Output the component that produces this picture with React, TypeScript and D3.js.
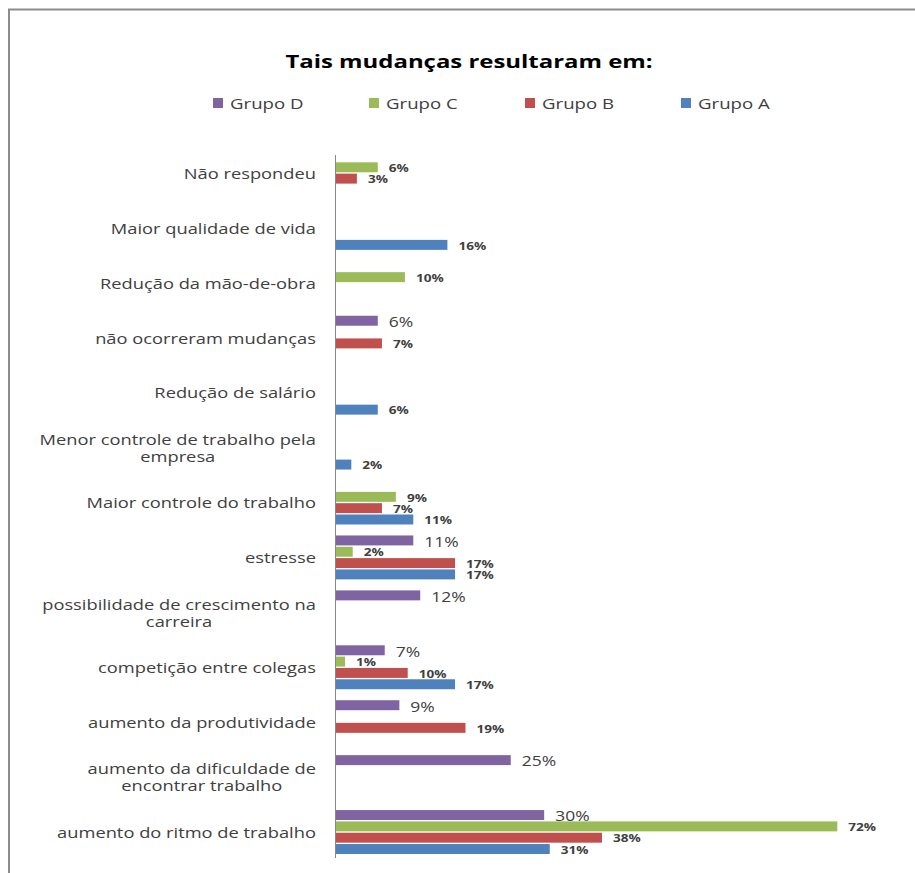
import React, { useEffect, useRef } from 'react';
import * as d3 from 'd3';

const title = 'Tais mudanças resultaram em:';
const categories = [
  'Não respondeu',
  'Maior qualidade de vida',
  'Redução da mão-de-obra',
  'não ocorreram mudanças',
  'Redução de salário',
  'Menor controle de trabalho pela\nempresa',
  'Maior controle do trabalho',
  'estresse',
  'possibilidade de crescimento na\ncarreira',
  'competição entre colegas',
  'aumento da produtividade',
  'aumento da dificuldade de\nencontrar trabalho',
  'aumento do ritmo de trabalho',
];
const seriesNames = ['Grupo D', 'Grupo C', 'Grupo B', 'Grupo A'];
const grupoD = [null, null, null, 6.0, null, null, null, 11.1, 12.1, 7.0, 9.1, 25.1, 29.9];
const grupoC = [6.0, null, 9.9, null, null, null, 8.6, 2.4, null, 1.3, null, null, 72.0];
const grupoB = [3.0, null, null, 6.6, null, null, 6.6, 17.1, null, 10.3, 18.6, null, 38.2];
const grupoA = [null, 16.0, null, null, 6.0, 2.2, 11.1, 17.1, null, 17.1, null, null, 30.7];
const seriesValues = [grupoD, grupoC, grupoB, grupoA];
const colors = ['#8064A2', '#9BBB59', '#C0504D', '#4F81BD'];

const FONT = '"Open Sans", "DejaVu Sans", sans-serif';

export default function App() {
  const ref = useRef<SVGSVGElement>(null);

  useEffect(() => {
    const svg = d3.select(ref.current);
    svg.selectAll('*').remove();

    const addText = (
      parent: any,
      x: number,
      y: number,
      str: string,
      o: { size: number; weight?: string; fill?: string; anchor?: string; sx?: number }
    ) => {
      const g = parent.append('g').attr('transform', `translate(${x},${y}) scale(${o.sx ?? 1},1)`);
      const t = g
        .append('text')
        .attr('font-family', FONT)
        .attr('font-size', o.size)
        .attr('font-weight', o.weight ?? 'normal')
        .attr('fill', o.fill ?? '#404040')
        .attr('text-anchor', o.anchor ?? 'start')
        .attr('dominant-baseline', 'central')
        .text(str);
      return t;
    };

    // frame
    svg
      .append('path')
      .attr('d', 'M9,873 V9.5 H915')
      .attr('fill', 'none')
      .attr('stroke', '#8c8c8c')
      .attr('stroke-width', 2);

    // title
    addText(svg, 469, 61, title, { size: 18, weight: 'bold', fill: '#000', anchor: 'middle', sx: 1.33 });

    // legend
    const legendX = d3.scaleOrdinal<string, number>().domain(seriesNames).range([213, 369, 525, 681]);
    seriesNames.forEach((s, i) => {
      const lx = legendX(s);
      svg.append('rect').attr('x', lx).attr('y', 98).attr('width', 10).attr('height', 10).attr('fill', colors[i]);
      addText(svg, lx + 17, 103, s, { size: 14, sx: 1.33 });
    });

    const y = d3.scaleBand<string>().domain(categories).range([145.5, 859.5]).paddingInner(0.2).paddingOuter(0.1);
    const ys = d3.scaleBand<string>().domain(seriesNames).range([0, y.bandwidth()]).paddingInner(0.12);
    const x = d3.scaleLinear().domain([0, 80]).range([336, 893]);

    // bars
    seriesNames.forEach((s, si) => {
      const vals = seriesValues[si];
      categories.forEach((c, ci) => {
        const v = vals[ci];
        if (v == null) return;
        const by = (y(c) as number) + (ys(s) as number);
        svg
          .append('rect')
          .attr('x', x(0))
          .attr('y', by)
          .attr('width', x(v) - x(0))
          .attr('height', ys.bandwidth())
          .attr('fill', colors[si]);
        const label = `${Math.round(v)}%`;
        const isD = si === 0;
        addText(svg, x(v) + 11, by + ys.bandwidth() / 2 + (isD ? 1 : 0.5), label, {
          size: isD ? 14 : 10,
          weight: isD ? 'normal' : 'bold',
          fill: '#404040',
          sx: isD ? 1.25 : 1.36,
        });
      });
    });

    // axis line
    svg
      .append('line')
      .attr('x1', 335.5)
      .attr('x2', 335.5)
      .attr('y1', 155)
      .attr('y2', 858)
      .attr('stroke', '#888')
      .attr('stroke-width', 1);

    // category labels (multi-line labels as one text with tspans, lines centred on each other)
    const labelRight = 316;
    const sxCat = 1.22;
    const lh = 17;
    categories.forEach((c) => {
      const lines = c.split('\n');
      const cy = (y(c) as number) + y.bandwidth() / 2;
      const g = svg.append('g');
      const t = g
        .append('text')
        .attr('font-family', FONT)
        .attr('font-size', 15)
        .attr('fill', '#404040')
        .attr('text-anchor', 'middle');
      const spans = lines.map((ln, li) =>
        t
          .append('tspan')
          .attr('x', 0)
          .attr('y', (li - (lines.length - 1) / 2) * lh)
          .attr('dominant-baseline', 'central')
          .text(ln)
      );
      const widths = spans.map((sp: any) => (sp.node() as SVGTextContentElement).getComputedTextLength() * sxCat);
      const maxW = Math.max(...widths);
      const cx = labelRight - maxW / 2;
      g.attr('transform', `translate(${cx},${cy}) scale(${sxCat},1)`);
    });
  }, []);

  return (
    <svg
      ref={ref}
      width={915}
      height={873}
      style={{ position: 'absolute', left: 0, top: 0, background: '#fff' }}
    />
  );
}
